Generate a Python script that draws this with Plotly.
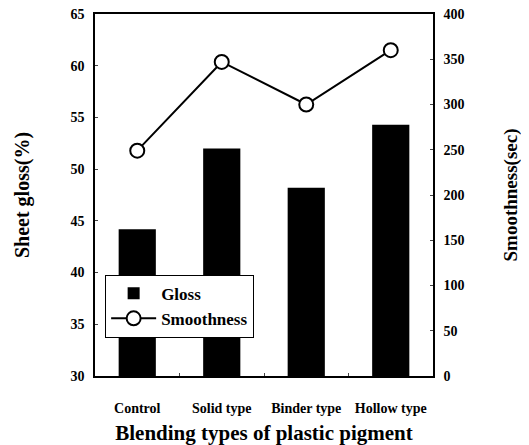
import plotly.graph_objects as go

categories = ["Control", "Solid type", "Binder type", "Hollow type"]
gloss = [44.2, 52.0, 48.2, 54.3]
smoothness = [249, 347, 300, 360]
gloss_ticks = [30, 35, 40, 45, 50, 55, 60, 65]
smooth_ticks = [0, 50, 100, 150, 200, 250, 300, 350, 400]

FONT = "Liberation Serif, Times New Roman, serif"

fig = go.Figure()
fig.add_trace(go.Bar(
    x=categories, y=gloss, name="Gloss",
    marker=dict(color="black", line=dict(width=0)),
    yaxis="y",
))
fig.add_trace(go.Scatter(
    x=categories, y=smoothness, name="Smoothness",
    mode="lines+markers",
    line=dict(color="black", width=2),
    marker=dict(symbol="circle", size=14, color="white",
                line=dict(color="black", width=2)),
    yaxis="y2",
))

fig.update_layout(
    width=521, height=437,
    margin=dict(l=87, r=96, t=6, b=69),
    plot_bgcolor="white", paper_bgcolor="white",
    font=dict(family=FONT, color="black", size=14, weight="bold"),
    bargap=0.56,
    showlegend=True,
    legend=dict(
        x=0.03, y=0.28, xanchor="left", yanchor="top",
        bordercolor="black", borderwidth=1, bgcolor="white",
        font=dict(family=FONT, size=17, weight="bold"),
        itemwidth=45, tracegroupgap=4,
    ),
    xaxis=dict(
        showline=True, linecolor="black", linewidth=1.5, mirror=True,
        ticks="inside", ticklen=3, tickson="boundaries",
        tickangle=0, automargin=False, ticklabeloverflow="allow",
        tickfont=dict(family=FONT, size=14, weight="bold"),
        ticklabelstandoff=18,
        title=dict(text="Blending types of plastic pigment",
                   font=dict(family=FONT, size=21, weight="bold"),
                   standoff=17),
    ),
    yaxis=dict(
        range=[30, 65], tickvals=gloss_ticks,
        showline=True, linecolor="black", linewidth=1.5,
        ticks="inside", ticklen=3, showgrid=False, zeroline=False,
        automargin=False, ticklabeloverflow="allow",
        tickfont=dict(family=FONT, size=14, weight="bold"),
        ticklabelstandoff=6,
        title=dict(text="Sheet gloss(%)",
                   font=dict(family=FONT, size=20, weight="bold"),
                   standoff=35),
    ),
    yaxis2=dict(
        range=[0, 400], tickvals=smooth_ticks,
        overlaying="y", side="right", anchor="x",
        showline=True, linecolor="black", linewidth=1.5,
        ticks="inside", ticklen=3, showgrid=False, zeroline=False,
        automargin=False, ticklabeloverflow="allow",
        tickfont=dict(family=FONT, size=14, weight="bold"),
        ticklabelstandoff=6,
        title=dict(text="Smoothness(sec)",
                   font=dict(family=FONT, size=19, weight="bold"),
                   standoff=40),
    ),
)

fig.write_html("out.html")
